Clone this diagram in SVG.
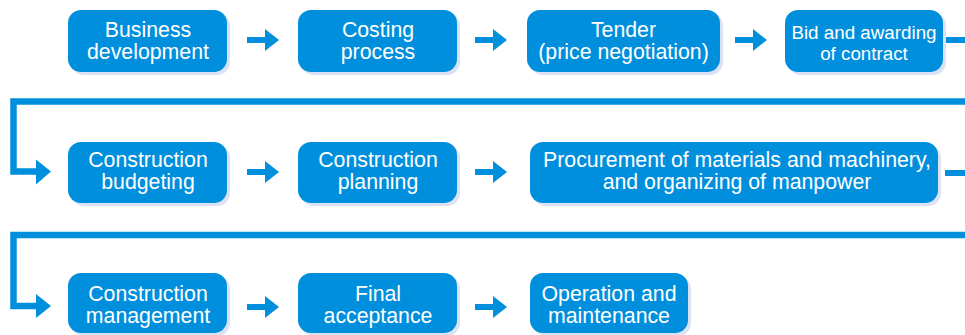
<svg xmlns="http://www.w3.org/2000/svg" width="965" height="335" viewBox="0 0 965 335">
  <defs>
    <style>
      .shadow { fill: #dbe2f4; }
      .box { fill: #008fdc; }
      .label { font-family: "Liberation Sans", Arial, sans-serif; font-size: 21.3px; fill: #ffffff; text-anchor: middle; }
      .small { font-size: 18.8px; }
      .line { fill: none; stroke: #008fdc; stroke-width: 6.5; stroke-linejoin: miter; }
      .head { fill: #008fdc; }
    </style>
  </defs>
  <rect width="965" height="335" fill="#ffffff"/>

  <!-- Connectors -->
  <g id="connectors">
    <!-- row 1 -->
    <rect class="head" x="247" y="37" width="20" height="6"/>
    <polygon class="head" points="265,29 279,40 265,51"/>
    <rect class="head" x="475" y="37" width="20" height="6"/>
    <polygon class="head" points="493,29 507,40 493,51"/>
    <rect class="head" x="735" y="37" width="20" height="6"/>
    <polygon class="head" points="753,29 767,40 753,51"/>
    <rect class="head" x="945" y="37" width="20" height="6"/>
    <!-- wrap row 1 to row 2 -->
    <polyline class="line" points="965,101.5 13.5,101.5 13.5,171.5 38,171.5"/>
    <polygon class="head" points="36,159.5 51,171.5 36,184.5"/>
    <!-- row 2 -->
    <rect class="head" x="247" y="169" width="20" height="6"/>
    <polygon class="head" points="265,161 279,172 265,183"/>
    <rect class="head" x="475" y="169" width="20" height="6"/>
    <polygon class="head" points="493,161 507,172 493,183"/>
    <rect class="head" x="945" y="170" width="20" height="6"/>
    <!-- wrap row 2 to row 3 -->
    <polyline class="line" points="965,235 13.5,235 13.5,306 38,306"/>
    <polygon class="head" points="36,294 51,306 36,318"/>
    <!-- row 3 -->
    <rect class="head" x="247" y="304" width="20" height="6"/>
    <polygon class="head" points="265,296 279,307 265,318"/>
    <rect class="head" x="475" y="304" width="20" height="6"/>
    <polygon class="head" points="493,296 507,307 493,318"/>
  </g>

  <!-- Row 1 -->
  <g id="business-development">
    <rect class="shadow" x="71" y="13" width="159" height="62" rx="13"/>
    <rect class="box" x="68" y="10" width="159" height="62" rx="13"/>
    <text class="label" x="148" y="36.5">Business</text>
    <text class="label" x="148" y="58.5">development</text>
  </g>
  <g id="costing-process">
    <rect class="shadow" x="301" y="13" width="159" height="62" rx="13"/>
    <rect class="box" x="298" y="10" width="159" height="62" rx="13"/>
    <text class="label" x="378" y="36.5">Costing</text>
    <text class="label" x="378" y="58.5">process</text>
  </g>
  <g id="tender">
    <rect class="shadow" x="530" y="13" width="193" height="62" rx="13"/>
    <rect class="box" x="527" y="10" width="193" height="62" rx="13"/>
    <text class="label" x="623.5" y="36.5">Tender</text>
    <text class="label" x="623.5" y="58.5">(price negotiation)</text>
  </g>
  <g id="bid-awarding">
    <rect class="shadow" x="788" y="13" width="158" height="62" rx="13"/>
    <rect class="box" x="785" y="10" width="158" height="62" rx="13"/>
    <text class="label small" x="864" y="38.5">Bid and awarding</text>
    <text class="label small" x="864" y="60">of contract</text>
  </g>

  <!-- Row 2 -->
  <g id="construction-budgeting">
    <rect class="shadow" x="71" y="145" width="159" height="61" rx="13"/>
    <rect class="box" x="68" y="142" width="159" height="61" rx="13"/>
    <text class="label" x="148" y="167">Construction</text>
    <text class="label" x="148" y="189">budgeting</text>
  </g>
  <g id="construction-planning">
    <rect class="shadow" x="301" y="145" width="159" height="61" rx="13"/>
    <rect class="box" x="298" y="142" width="159" height="61" rx="13"/>
    <text class="label" x="378" y="167">Construction</text>
    <text class="label" x="378" y="189">planning</text>
  </g>
  <g id="procurement">
    <rect class="shadow" x="533" y="145" width="408" height="61" rx="13"/>
    <rect class="box" x="530" y="142" width="408" height="61" rx="13"/>
    <text class="label" x="737" y="167">Procurement of materials and machinery,</text>
    <text class="label" x="737" y="189">and organizing of manpower</text>
  </g>

  <!-- Row 3 -->
  <g id="construction-management">
    <rect class="shadow" x="71" y="276" width="159" height="60" rx="13"/>
    <rect class="box" x="68" y="273" width="159" height="60" rx="13"/>
    <text class="label" x="148" y="301">Construction</text>
    <text class="label" x="148" y="323">management</text>
  </g>
  <g id="final-acceptance">
    <rect class="shadow" x="301" y="276" width="159" height="60" rx="13"/>
    <rect class="box" x="298" y="273" width="159" height="60" rx="13"/>
    <text class="label" x="378" y="301">Final</text>
    <text class="label" x="378" y="323">acceptance</text>
  </g>
  <g id="operation-maintenance">
    <rect class="shadow" x="533" y="276" width="158" height="60" rx="13"/>
    <rect class="box" x="530" y="273" width="158" height="60" rx="13"/>
    <text class="label" x="609" y="301">Operation and</text>
    <text class="label" x="609" y="323">maintenance</text>
  </g>
</svg>
